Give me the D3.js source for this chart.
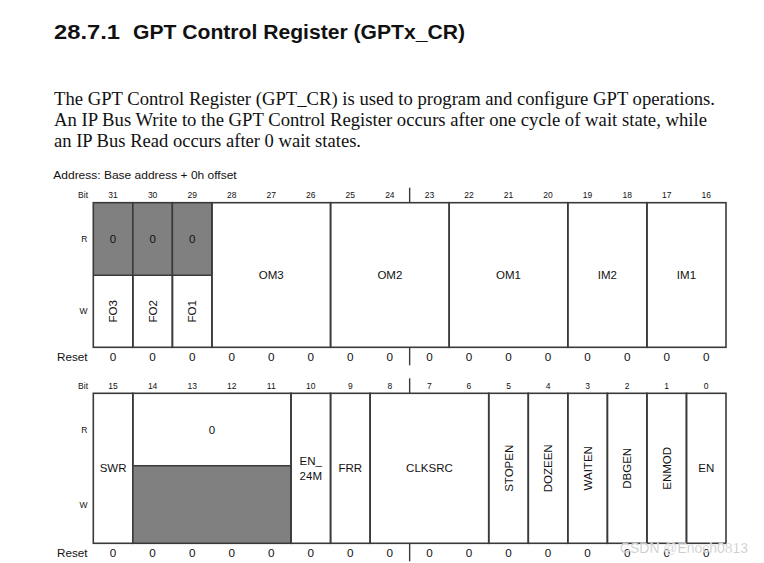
<!DOCTYPE html>
<html><head><meta charset="utf-8">
<script src="https://cdn.jsdelivr.net/npm/d3@7"></script>
<style>body{margin:0;background:#fff}svg{display:block}</style>
</head><body>
<svg id="c" width="764" height="563"></svg>
<script>
// ---- data ----
const titleNum = "28.7.1";
const titleText = "GPT Control Register (GPTx_CR)";
const paragraph = [
  "The GPT Control Register (GPT_CR) is used to program and configure GPT operations.",
  "An IP Bus Write to the GPT Control Register occurs after one cycle of wait state, while",
  "an IP Bus Read occurs after 0 wait states."
];
const addressText = "Address: Base address + 0h offset";
const bitsHigh = [31,30,29,28,27,26,25,24,23,22,21,20,19,18,17,16];
const bitsLow  = [15,14,13,12,11,10,9,8,7,6,5,4,3,2,1,0];
const resetHigh = [0,0,0,0,0,0,0,0,0,0,0,0,0,0,0,0];
const resetLow  = [0,0,0,0,0,0,0,0,0,0,0,0,0,0,0,0];
// kind: "wo" = read as 0 (grey R), write field; "rw" = full field; "rwv" = full, vertical name; "ro" = read 0, grey W
const fieldNameHigh = ["FO3","FO2","FO1","OM3","OM2","OM1","IM2","IM1"];
const fieldMsbHigh  = [31,30,29,28,25,22,19,17];
const fieldLsbHigh  = [31,30,29,26,23,20,18,16];
const fieldKindHigh = ["wo","wo","wo","rw","rw","rw","rw","rw"];
const fieldNameLow = ["SWR","0","EN_|24M","FRR","CLKSRC","STOPEN","DOZEEN","WAITEN","DBGEN","ENMOD","EN"];
const fieldMsbLow  = [15,14,10,9,8,5,4,3,2,1,0];
const fieldLsbLow  = [15,11,10,9,6,5,4,3,2,1,0];
const fieldKindLow = ["rw","ro","rw","rw","rw","rwv","rwv","rwv","rwv","rwv","rw"];
const separatorsHigh = [24]; // tick after this bit
const separatorsLow = [8];
const watermark = "CSDN @Enoch0813";

// ---- drawing ----
const svg = d3.select("#c");
const SANS = "'Liberation Sans', Arial, sans-serif";
const SERIF = "'Liberation Serif', 'Times New Roman', serif";
const GREY = "#808080", LINE = "#3a3a3a";

svg.append("text").attr("x",54).attr("y",39).attr("font-family",SANS).attr("font-weight","bold")
  .attr("font-size",20).attr("fill","#111").text(titleNum)
  .attr("textLength",66).attr("lengthAdjust","spacingAndGlyphs");
svg.append("text").attr("x",133).attr("y",39).attr("font-family",SANS).attr("font-weight","bold")
  .attr("font-size",20).attr("fill","#111").text(titleText)
  .attr("textLength",332).attr("lengthAdjust","spacingAndGlyphs");

const paraEnds = [715, 707, 361];
paragraph.forEach((t,i)=>{
  svg.append("text").attr("x",54).attr("y",104.5+i*21.2).attr("font-family",SERIF)
    .attr("font-size",18.3).attr("fill","#111").text(t)
    .attr("textLength",paraEnds[i]-54).attr("lengthAdjust","spacingAndGlyphs");
});

svg.append("text").attr("x",53.3).attr("y",179).attr("font-family",SANS).attr("font-size",10.5)
  .attr("fill","#111").text(addressText).attr("textLength",183.4).attr("lengthAdjust","spacingAndGlyphs");

function drawRegister(cfg){
  const g = svg.append("g");
  const x = d3.scaleBand().domain(cfg.bits).range([93.3,726]).padding(0);
  const y = d3.scaleLinear().domain([0,1,2]).range([cfg.top, cfg.split, cfg.bottom]);
  const bw = x.bandwidth();
  const left = b => x(b), right = b => x(b)+bw;

  // bit labels
  g.append("text").attr("x",88).attr("y",cfg.bitY).attr("text-anchor","end").attr("font-family",SANS)
    .attr("font-size",8.5).attr("fill","#111").text("Bit");
  g.selectAll("text.bit").data(cfg.bits).join("text").attr("class","bit")
    .attr("x",d=>x(d)+bw/2).attr("y",cfg.bitY).attr("text-anchor","middle")
    .attr("font-family",SANS).attr("font-size",8.5).attr("fill","#111").text(d=>d);
  g.append("text").attr("x",87.5).attr("y",(y(0)+y(1))/2+3).attr("text-anchor","end")
    .attr("font-family",SANS).attr("font-size",8.5).attr("fill","#111").text("R");
  g.append("text").attr("x",87.5).attr("y",(y(1)+y(2))/2+3).attr("text-anchor","end")
    .attr("font-family",SANS).attr("font-size",8.5).attr("fill","#111").text("W");

  // fields
  const fields = cfg.names.map((n,i)=>({name:n, msb:cfg.msb[i], lsb:cfg.lsb[i], kind:cfg.kind[i]}));
  fields.forEach(f=>{
    const x0 = left(f.msb), x1 = right(f.lsb), cx=(x0+x1)/2;
    const yR = (y(0)+y(1))/2, yW=(y(1)+y(2))/2, yM=(y(0)+y(2))/2;
    if(f.kind==="wo"){
      g.append("rect").attr("x",x0).attr("y",y(0)).attr("width",x1-x0).attr("height",y(1)-y(0)).attr("fill",GREY);
      g.append("text").attr("x",cx).attr("y",yR+4).attr("text-anchor","middle").attr("font-family",SANS)
        .attr("font-size",11.5).attr("fill","#111").text("0");
      g.append("line").attr("x1",x0).attr("x2",x1).attr("y1",y(1)).attr("y2",y(1)).attr("stroke",LINE).attr("stroke-width",1.6);
      g.append("text").attr("transform",`translate(${cx+4},${yW}) rotate(-90)`).attr("text-anchor","middle")
        .attr("font-family",SANS).attr("font-size",11.5).attr("fill","#111").text(f.name);
    } else if(f.kind==="ro"){
      g.append("rect").attr("x",x0).attr("y",y(1)).attr("width",x1-x0).attr("height",y(2)-y(1)).attr("fill",GREY);
      g.append("line").attr("x1",x0).attr("x2",x1).attr("y1",y(1)).attr("y2",y(1)).attr("stroke",LINE).attr("stroke-width",1.6);
      g.append("text").attr("x",cx).attr("y",yR+4).attr("text-anchor","middle").attr("font-family",SANS)
        .attr("font-size",11.5).attr("fill","#111").text(f.name);
    } else if(f.kind==="rwv"){
      g.append("text").attr("transform",`translate(${cx+4},${yM}) rotate(-90)`).attr("text-anchor","middle")
        .attr("font-family",SANS).attr("font-size",11.5).attr("fill","#111").text(f.name);
    } else {
      const parts = f.name.split("|");
      parts.forEach((p,k)=>{
        g.append("text").attr("x",cx).attr("y",yM+4+(k-(parts.length-1)/2)*15).attr("text-anchor","middle")
          .attr("font-family",SANS).attr("font-size",11.5).attr("fill","#111").text(p);
      });
    }
    g.append("rect").attr("x",x0).attr("y",y(0)).attr("width",x1-x0).attr("height",y(2)-y(0))
      .attr("fill","none").attr("stroke",LINE).attr("stroke-width",1.6);
  });

  // separators
  cfg.seps.forEach(b=>{
    const sx = right(b);
    g.append("line").attr("x1",sx).attr("x2",sx).attr("y1",cfg.top-15).attr("y2",cfg.top).attr("stroke",LINE).attr("stroke-width",1.4);
    g.append("line").attr("x1",sx).attr("x2",sx).attr("y1",cfg.bottom).attr("y2",cfg.bottom+18).attr("stroke",LINE).attr("stroke-width",1.4);
  });

  // reset row
  g.append("text").attr("x",87.5).attr("y",cfg.resetY).attr("text-anchor","end").attr("font-family",SANS)
    .attr("font-size",11.7).attr("fill","#111").text("Reset");
  g.selectAll("text.rst").data(cfg.bits).join("text").attr("class","rst")
    .attr("x",d=>x(d)+bw/2).attr("y",cfg.resetY).attr("text-anchor","middle")
    .attr("font-family",SANS).attr("font-size",11.7).attr("fill","#111").text((d,i)=>cfg.reset[i]);
}

drawRegister({bits:bitsHigh, names:fieldNameHigh, msb:fieldMsbHigh, lsb:fieldLsbHigh, kind:fieldKindHigh,
  reset:resetHigh, seps:separatorsHigh, top:202.7, split:275.3, bottom:347.3, bitY:198, resetY:361});
drawRegister({bits:bitsLow, names:fieldNameLow, msb:fieldMsbLow, lsb:fieldLsbLow, kind:fieldKindLow,
  reset:resetLow, seps:separatorsLow, top:393.3, split:465.7, bottom:543.3, bitY:388.5, resetY:557});

svg.append("text").attr("x",620).attr("y",552.5).attr("font-family",SANS).attr("font-size",14)
  .attr("fill","#aaaaaa").attr("fill-opacity",0.85).attr("stroke","#fff").attr("stroke-width",0.4)
  .text(watermark).attr("textLength",128).attr("lengthAdjust","spacingAndGlyphs");
</script>
</body></html>
